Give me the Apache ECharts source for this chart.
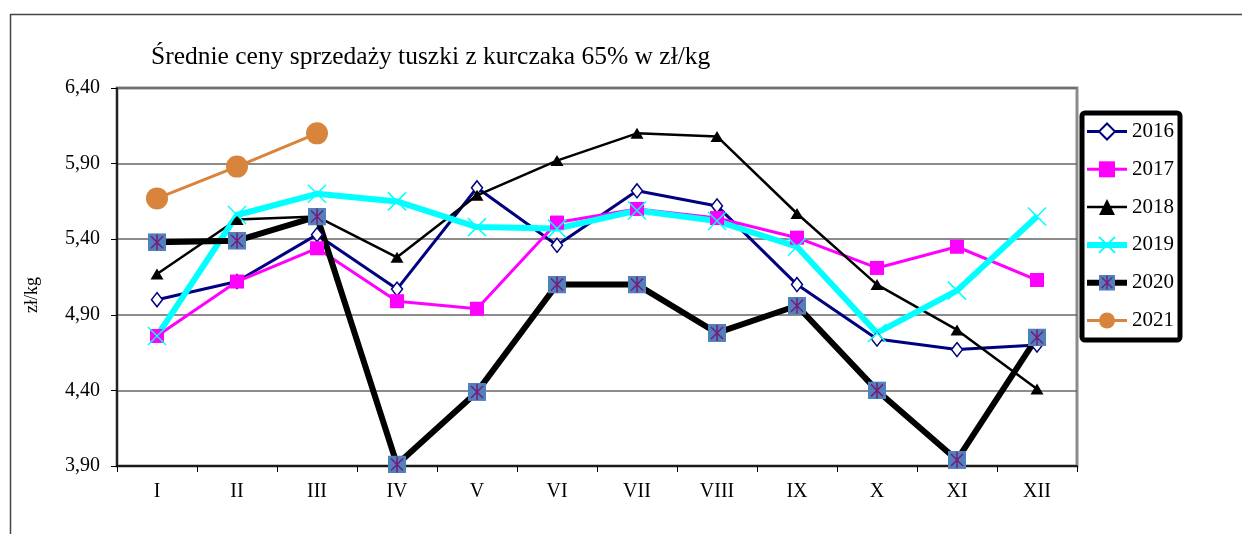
<!DOCTYPE html>
<html>
<head>
<meta charset="utf-8">
<title>Średnie ceny sprzedaży tuszki z kurczaka</title>
<script src="https://cdn.jsdelivr.net/npm/echarts@6.0.0/dist/echarts.min.js"></script>
<style>
  html, body { margin: 0; padding: 0; background: #fff; }
  #chart { width: 1242px; height: 534px; }
</style>
</head>
<body>
<div id="chart"></div>
<script>
// miesiace
var months = ['I', 'II', 'III', 'IV', 'V', 'VI', 'VII', 'VIII', 'IX', 'X', 'XI', 'XII'];
var years = ['2016', '2017', '2018', '2019', '2020', '2021'];

// ceny zl/kg
var y2016 = [5.00, 5.12, 5.43, 5.07, 5.74, 5.36, 5.72, 5.62, 5.10, 4.74, 4.67, 4.70];
var y2017 = [4.76, 5.12, 5.34, 4.99, 4.94, 5.51, 5.60, 5.54, 5.41, 5.21, 5.35, 5.13];
var y2018 = [5.17, 5.53, 5.55, 5.28, 5.69, 5.92, 6.10, 6.08, 5.57, 5.10, 4.80, 4.41];
var y2019 = [4.76, 5.56, 5.70, 5.65, 5.48, 5.47, 5.59, 5.52, 5.35, 4.78, 5.06, 5.55];
var y2020 = [5.38, 5.39, 5.55, 3.91, 4.39, 5.10, 5.10, 4.78, 4.96, 4.40, 3.94, 4.75];
var y2021 = [5.67, 5.88, 6.10];

var yMin = 3.9, yMax = 6.4, yStep = 0.5;

var serif = '"Liberation Serif", "Times New Roman", serif';

// kwadrat z gwiazdka (znacznik 2020)
var starSvg = "<svg xmlns='http://www.w3.org/2000/svg' width='36' height='36'>" +
    "<rect width='36' height='36' fill='#4F81BD'/>" +
    "<path d='M6 6L30 30M30 6L6 30M18 2V34' stroke='#7A1A7A' stroke-width='3'/></svg>";
var starSymbol = 'image://data:image/svg+xml;charset=utf-8,' + encodeURIComponent(starSvg);

var myChart = echarts.init(document.getElementById('chart'));

var option = {
    backgroundColor: '#fff',
    animation: false,
    title: {
        text: 'Średnie ceny sprzedaży tuszki z kurczaka 65% w zł/kg',
        left: 146,
        top: 39,
        textStyle: {
            fontFamily: serif,
            fontSize: 25.5,
            fontWeight: 'normal',
            color: '#000'
        }
    },
    graphic: [
        { type: 'line', shape: { x1: 10, y1: 14.5, x2: 1242, y2: 14.5 }, style: { stroke: '#444', lineWidth: 1.5 } },
        { type: 'line', shape: { x1: 10.5, y1: 14, x2: 10.5, y2: 534 }, style: { stroke: '#444', lineWidth: 1.5 } }
    ],
    legend: {
        data: years,
        orient: 'vertical',
        left: 1082,
        top: 113,
        padding: [8, 6, 9, 2],
        itemWidth: 40,
        itemHeight: 20,
        itemGap: 16.8,
        borderColor: '#000',
        borderWidth: 5,
        borderRadius: 3,
        lineStyle: { width: 'inherit' },
        textStyle: {
            fontFamily: serif,
            fontSize: 21,
            color: '#000',
            lineHeight: 20
        }
    },
    grid: {
        left: 117,
        right: 165,
        top: 88,
        bottom: 68,
        show: true,
        borderColor: '#8c8c8c',
        borderWidth: 3,
        backgroundColor: '#fff'
    },
    xAxis: {
        type: 'category',
        data: months,
        boundaryGap: true,
        axisLine: { lineStyle: { color: '#000', width: 1.5 } },
        axisTick: { show: true, length: 6, lineStyle: { color: '#000' } },
        axisLabel: {
            fontFamily: serif,
            fontSize: 20,
            color: '#000',
            margin: 16
        }
    },
    yAxis: {
        type: 'value',
        min: yMin,
        max: yMax,
        interval: yStep,
        name: 'zł/kg',
        nameLocation: 'middle',
        nameGap: 76,
        nameTextStyle: {
            fontFamily: serif,
            fontSize: 18,
            color: '#000',
            padding: [0, 36, 0, 0]
        },
        axisLine: { show: true, lineStyle: { color: '#000', width: 1.5 } },
        axisTick: { show: true, length: 6, lineStyle: { color: '#000' } },
        splitLine: { show: true, lineStyle: { color: '#666', width: 1.5 } },
        axisLabel: {
            fontFamily: serif,
            fontSize: 20,
            color: '#000',
            margin: 17,
            formatter: function (v) {
                return v.toFixed(2).replace('.', ',');
            }
        }
    },
    series: [
        {
            name: '2016',
            type: 'line',
            data: y2016,
            symbol: 'diamond',
            symbolSize: [11, 14],
            lineStyle: { color: '#000080', width: 3 },
            itemStyle: { color: '#fff', borderColor: '#000080', borderWidth: 1.5 }
        },
        {
            name: '2017',
            type: 'line',
            data: y2017,
            symbol: 'rect',
            symbolSize: 14,
            lineStyle: { color: '#FF00FF', width: 3 },
            itemStyle: { color: '#FF00FF' }
        },
        {
            name: '2018',
            type: 'line',
            data: y2018,
            symbol: 'triangle',
            symbolSize: [13, 11],
            lineStyle: { color: '#000', width: 2.5 },
            itemStyle: { color: '#000' }
        },
        {
            name: '2019',
            type: 'line',
            data: y2019,
            symbol: 'path://M0,0L10,10M10,0L0,10',
            symbolSize: 18,
            lineStyle: { color: '#00FFFF', width: 6 },
            itemStyle: { color: 'none', borderColor: '#00FFFF', borderWidth: 1.5 }
        },
        {
            name: '2020',
            type: 'line',
            data: y2020,
            symbol: starSymbol,
            symbolSize: 18,
            lineStyle: { color: '#000', width: 6 },
            itemStyle: { color: '#4F81BD' }
        },
        {
            name: '2021',
            type: 'line',
            data: y2021,
            symbol: 'circle',
            symbolSize: 22,
            lineStyle: { color: '#D8843C', width: 3 },
            itemStyle: { color: '#D8843C' }
        }
    ]
};

myChart.setOption(option);
</script>
</body>
</html>
